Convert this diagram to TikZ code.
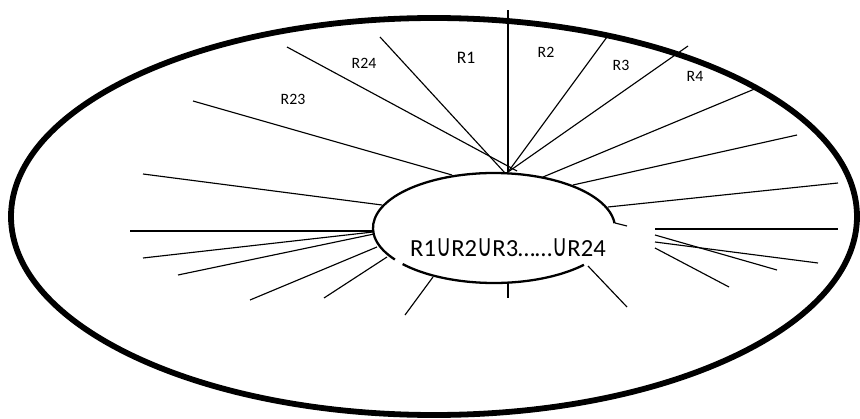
\documentclass[tikz,border=0pt]{standalone}
\usepackage{fontspec}
\setmainfont{Carlito}
\newfontfamily\symfont{DejaVu Sans}
\usepackage{graphicx}
\usepackage{tikz}
\usetikzlibrary{calc}

\newcommand{\un}{{\symfont\fontsize{12.5}{14}\selectfont\scalebox{0.95}[1.4]{∪}}}

\begin{document}
\begin{tikzpicture}[x=0.02cm,y=-0.02cm]
\def\cLine{black}
\def\cText{black}
\def\wThin{0.65pt}
\def\wSet{1.3pt}
\def\wOut{3.3pt}
\useasboundingbox (0,0) rectangle (860,419);
% outer set and the union in the middle
\coordinate (O) at (434,216.5);
\coordinate (C) at (494,228);
\coordinate (H) at (508,172);
\draw[\cLine, line width=\wOut] (O) ellipse[x radius=423, y radius=198.5];
\draw[\cLine, line width=\wSet] ($(C)+(145:121 and 55)$) arc[start angle=145, end angle=355, x radius=121, y radius=55];
\draw[\cLine, line width=\wSet] ($(C)+(42:121 and 55)$) arc[start angle=42, end angle=139, x radius=121, y radius=55];
% upper fan
\draw[\cLine, line width=\wThin] (508,10) -- (H);
\draw[\cLine, line width=\wThin] (380,37) -- (505,173);
\draw[\cLine, line width=\wThin] (287,47) -- (517,171);
\draw[\cLine, line width=\wThin] (607,37) -- (H);
\draw[\cLine, line width=\wThin] (688,46) -- (H);
\draw[\cLine, line width=\wThin] (757,88) -- (543,177);
\draw[\cLine, line width=\wThin] (797,135) -- (573,185);
\draw[\cLine, line width=\wThin] (838,183) -- (608,207);
% left side
\draw[\cLine, line width=\wThin] (193,101) -- (452,175);
\draw[\cLine, line width=\wThin] (143,174) -- (382,205);
\draw[\cLine, line width=\wThin] (130,231) -- (373,231);
\draw[\cLine, line width=\wThin] (143,258) -- (373,232);
\draw[\cLine, line width=\wThin] (178,275) -- (374,234);
\draw[\cLine, line width=\wThin] (250,300) -- (377,247);
\draw[\cLine, line width=\wThin] (324,298) -- (387,257);
% below
\draw[\cLine, line width=\wThin] (405,315) -- (433,277);
\draw[\cLine, line width=\wThin] (508,283) -- (508,298);
\draw[\cLine, line width=\wThin] (588,266) -- (627,307);
% right side
\draw[\cLine, line width=\wThin] (615,223) -- (627,226);
\draw[\cLine, line width=\wThin] (655,229) -- (838,229);
\draw[\cLine, line width=\wThin] (655,235) -- (777,270);
\draw[\cLine, line width=\wThin] (655,242) -- (818,263);
\draw[\cLine, line width=\wThin] (655,248) -- (729,287);
% labels
\node[\cText, font=\fontsize{10}{12}\selectfont] (r1) at (466,58) {R1};
\node[\cText, font=\fontsize{9}{11}\selectfont] (r2) at (546,52) {R2};
\node[\cText, font=\fontsize{9}{11}\selectfont] (r3) at (621,65) {R3};
\node[\cText, font=\fontsize{9}{11}\selectfont] (r4) at (695,76) {R4};
\node[\cText, font=\fontsize{9}{11}\selectfont] (r24) at (364,63) {R24};
\node[\cText, font=\fontsize{9}{11}\selectfont] (r23) at (293,99) {R23};
\node[\cText, font=\fontsize{14}{16}\selectfont] (u) at (508,248) {R1\un R2\un R3……\un R24};
\end{tikzpicture}
\end{document}
